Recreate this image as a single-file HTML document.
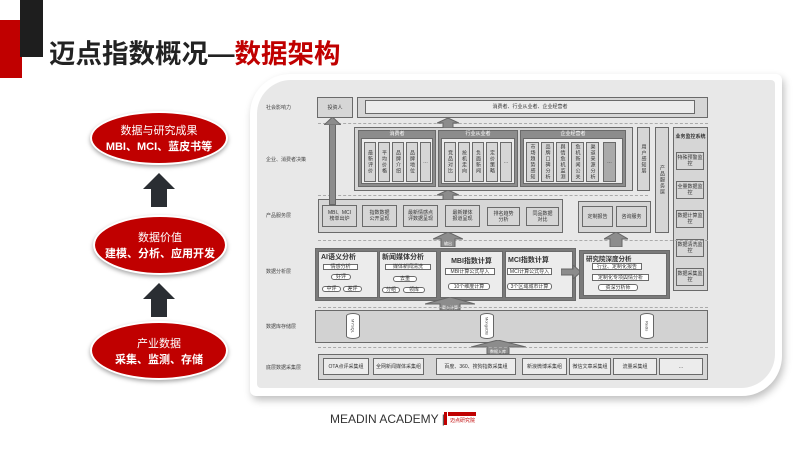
<!DOCTYPE html>
<html><head><meta charset="utf-8"><style>
*{margin:0;padding:0;box-sizing:border-box}
body{width:800px;height:449px;background:#fff;position:relative;overflow:hidden;font-family:"Liberation Sans","Noto Sans CJK SC",sans-serif}
.a{position:absolute}
.b{position:absolute;border:1px solid #6a6a6a;background:#d6d6d6;font-size:5px;color:#333;display:flex;align-items:center;justify-content:center;text-align:center;line-height:1.2}
.w{background:#ececec}
.d{background:#8c8c8c}
.lab{position:absolute;font-size:5px;color:#444;left:266px}
.v{writing-mode:vertical-rl;letter-spacing:1px}
.dash{position:absolute;left:318px;width:390px;border-top:1px dashed #aaa}
.ov{position:absolute;border-radius:50%;background:#c00000;color:#fff;text-align:center;box-shadow:0 2px 4px rgba(0,0,0,.35);display:flex;flex-direction:column;justify-content:center;border:2px solid #fff;white-space:nowrap}
.ov .t{font-size:11px}
.ov .s{font-size:11px;font-weight:bold}
.ar{position:absolute;width:32px;height:34px}
.cyl{position:absolute;width:14px;height:26px;border:1px solid #666;background:#fff;border-radius:7px/3px;font-size:4px;writing-mode:vertical-rl;display:flex;align-items:center;justify-content:center;color:#444}
</style></head><body>
<div class="a" style="left:0;top:20px;width:22px;height:58px;background:#c00000"></div>
<div class="a" style="left:20px;top:0;width:23px;height:57px;background:#1e1e1e"></div>
<div class="a" style="left:49px;top:32px;font-size:26.5px;font-weight:bold;color:#222;white-space:nowrap;letter-spacing:0px">迈点指数概况—<span style="color:#c00000">数据架构</span></div>

<div class="ov" style="left:90px;top:111px;width:138px;height:54px"><div class="t">数据与研究成果</div><div class="s">MBI、MCI、蓝皮书等</div></div>
<div class="ov" style="left:93px;top:215px;width:134px;height:60px"><div class="t">数据价值</div><div class="s">建模、分析、应用开发</div></div>
<div class="ov" style="left:90px;top:321px;width:138px;height:59px"><div class="t">产业数据</div><div class="s">采集、监测、存储</div></div>
<svg class="ar" style="left:143px;top:173px" viewBox="0 0 32 34"><polygon points="16,0 32,16 24,16 24,34 8,34 8,16 0,16" fill="#2a2e33"/></svg>
<svg class="ar" style="left:143px;top:283px" viewBox="0 0 32 34"><polygon points="16,0 32,16 24,16 24,34 8,34 8,16 0,16" fill="#2a2e33"/></svg>

<!-- frame -->
<div class="a" style="left:250px;top:74px;width:532px;height:322px;background:#fff;border-radius:40px 6px 40px 6px;box-shadow:2px 4px 8px rgba(0,0,0,.25)"></div>
<div class="a" style="left:257px;top:80px;width:518px;height:308px;background:#e8e8e8;border-radius:34px 4px 34px 4px"></div>

<div class="lab" style="top:104px">社会影响力</div>
<div class="lab" style="top:156px">企业、消费者决策</div>
<div class="lab" style="top:212px">产品服务层</div>
<div class="lab" style="top:268px">数据分析层</div>
<div class="lab" style="top:323px">数据库存储层</div>
<div class="lab" style="top:364px">底层数据采集层</div>

<div class="b" style="left:317px;top:97px;width:36px;height:21px">投资人</div>
<div class="b" style="left:357px;top:97px;width:351px;height:21px"></div>
<div class="b w" style="left:365px;top:100px;width:330px;height:14px">消费者、行业从业者、企业经营者</div>
<div class="dash" style="top:123px"></div>

<div class="b" style="left:354px;top:127px;width:279px;height:64px"></div>
<div class="b d" style="left:358px;top:130px;width:78px;height:57px;align-items:flex-start;color:#fff">消费者</div>
<div class="b w" style="left:361px;top:138px;width:72px;height:46px"></div>
<div class="b" style="left:438px;top:130px;width:80px;height:57px;align-items:flex-start;background:#8c8c8c;color:#fff">行业从业者</div>
<div class="b w" style="left:441px;top:138px;width:74px;height:46px"></div>
<div class="b d" style="left:520px;top:130px;width:106px;height:57px;align-items:flex-start;color:#fff">企业经营者</div>
<div class="b w" style="left:523px;top:138px;width:100px;height:46px"></div>
<div class="b v" style="left:364px;top:142px;width:12px;height:40px">最新评价</div>
<div class="b v" style="left:378px;top:142px;width:12px;height:40px">平均价格</div>
<div class="b v" style="left:392px;top:142px;width:12px;height:40px">品牌介绍</div>
<div class="b v" style="left:406px;top:142px;width:12px;height:40px">品牌地位</div>
<div class="b" style="left:420px;top:142px;width:11px;height:40px">…</div>
<div class="b v" style="left:444px;top:142px;width:12px;height:40px">竞品对比</div>
<div class="b v" style="left:458px;top:142px;width:12px;height:40px">抢机走向</div>
<div class="b v" style="left:472px;top:142px;width:12px;height:40px">负面新闻</div>
<div class="b v" style="left:486px;top:142px;width:12px;height:40px">定价策略</div>
<div class="b" style="left:500px;top:142px;width:12px;height:40px">…</div>
<div class="b v" style="left:526px;top:142px;width:13px;height:40px">市场趋势感知</div>
<div class="b v" style="left:541px;top:142px;width:13px;height:40px">品牌口碑分析</div>
<div class="b v" style="left:556px;top:142px;width:13px;height:40px">舆情危机监测</div>
<div class="b v" style="left:571px;top:142px;width:13px;height:40px">危机新闻公关</div>
<div class="b v" style="left:586px;top:142px;width:13px;height:40px">渠道来源分析</div>
<div class="b" style="left:603px;top:142px;width:13px;height:40px;background:#aaa">…</div>
<div class="b v" style="left:637px;top:127px;width:13px;height:64px">用户感知层</div>
<div class="b v" style="left:655px;top:127px;width:14px;height:106px">产品服务层</div>
<div class="b" style="left:673px;top:127px;width:35px;height:164px;align-items:flex-start;padding-top:6px;font-weight:bold">业务监控系统</div>
<div class="b" style="left:676px;top:152px;width:28px;height:18px">特殊预警监控</div>
<div class="b" style="left:676px;top:181px;width:28px;height:18px">全量数据监控</div>
<div class="b" style="left:676px;top:210px;width:28px;height:18px">数据计算监控</div>
<div class="b" style="left:676px;top:239px;width:28px;height:18px">数据清洗监控</div>
<div class="b" style="left:676px;top:268px;width:28px;height:18px">数据采集监控</div>
<div class="dash" style="top:195px;width:330px"></div>

<div class="b" style="left:318px;top:199px;width:245px;height:34px"></div>
<div class="b" style="left:322px;top:205px;width:35px;height:22px">MBI、MCI<br>榜单出炉</div>
<div class="b" style="left:362px;top:205px;width:35px;height:22px">指数数据<br>公开呈现</div>
<div class="b" style="left:403px;top:205px;width:35px;height:22px">最新情感点<br>评数据呈现</div>
<div class="b" style="left:445px;top:205px;width:35px;height:22px">最新媒体<br>报道呈现</div>
<div class="b" style="left:487px;top:207px;width:33px;height:19px">排名趋势<br>分析</div>
<div class="b" style="left:526px;top:207px;width:33px;height:19px">同品数据<br>对比</div>
<div class="b" style="left:578px;top:201px;width:73px;height:32px"></div>
<div class="b" style="left:582px;top:206px;width:31px;height:21px">定制报告</div>
<div class="b" style="left:616px;top:206px;width:31px;height:21px">咨询服务</div>
<div class="a" style="left:329px;top:120px;width:7px;height:85px;background:#8c8c8c;border:1px solid #666"></div>
<svg class="a" style="left:324px;top:117px" width="17" height="8"><polygon points="8.5,0 17,8 0,8" fill="#8c8c8c" stroke="#666"/></svg>
<svg class="a" style="left:437px;top:118px" width="22" height="10"><polygon points="11,0 22,5 16,5 16,10 6,10 6,5 0,5" fill="#8c8c8c" stroke="#666"/></svg>
<svg class="a" style="left:437px;top:190px" width="22" height="10"><polygon points="11,0 22,5 16,5 16,10 6,10 6,5 0,5" fill="#8c8c8c" stroke="#666"/></svg>
<div class="dash" style="top:240px"></div>
<svg class="a" style="left:433px;top:232px" width="30" height="15"><polygon points="15,0 30,7 22,7 22,15 8,15 8,7 0,7" fill="#8c8c8c" stroke="#666"/><text x="15" y="13" font-size="4" text-anchor="middle" fill="#fff">输出</text></svg>
<svg class="a" style="left:604px;top:232px" width="24" height="15"><polygon points="12,0 24,7 18,7 18,15 6,15 6,7 0,7" fill="#8c8c8c" stroke="#666"/></svg>

<div class="b" style="left:315px;top:248px;width:261px;height:53px;background:#7a7a7a"></div>
<div class="b w" style="left:318px;top:251px;width:60px;height:47px;align-items:flex-start;justify-content:flex-start;font-size:7px;font-weight:bold;padding:2px">AI语义分析</div>
<div class="b w" style="left:323px;top:264px;width:35px;height:6px;background:#fff">情感分析</div>
<div class="b w" style="left:331px;top:274px;width:20px;height:6px;border-radius:3px;background:#fff">好评</div>
<div class="b w" style="left:322px;top:286px;width:19px;height:6px;border-radius:3px;background:#fff">中评</div>
<div class="b w" style="left:343px;top:286px;width:19px;height:6px;border-radius:3px;background:#fff">差评</div>
<div class="b w" style="left:379px;top:251px;width:58px;height:47px;align-items:flex-start;justify-content:flex-start;font-size:7px;font-weight:bold;padding:2px">新闻媒体分析</div>
<div class="b" style="left:385px;top:264px;width:46px;height:6px;background:#fff">媒体新闻清洗</div>
<div class="b" style="left:393px;top:276px;width:24px;height:6px;border-radius:3px;background:#fff">去重</div>
<div class="b" style="left:382px;top:287px;width:18px;height:6px;border-radius:3px;background:#fff">分组</div>
<div class="b" style="left:403px;top:287px;width:22px;height:6px;border-radius:3px;background:#fff">领库</div>
<div class="b w" style="left:440px;top:251px;width:63px;height:47px;align-items:flex-start;font-size:7px;font-weight:bold;padding-top:6px">MBI指数计算</div>
<div class="b" style="left:445px;top:268px;width:50px;height:7px;background:#fff">MBI计算公式导入</div>
<div class="b" style="left:448px;top:283px;width:42px;height:7px;border-radius:3px;background:#fff">10个维度计算</div>
<div class="b w" style="left:505px;top:251px;width:68px;height:47px;align-items:flex-start;justify-content:flex-start;font-size:7px;font-weight:bold;padding:5px 2px">MCI指数计算</div>
<div class="b" style="left:507px;top:268px;width:45px;height:7px;background:#fff">MCI计算公式导入</div>
<div class="b" style="left:507px;top:283px;width:45px;height:7px;border-radius:3px;background:#fff">3个区域城市计算</div>
<svg class="a" style="left:561px;top:265px" width="20" height="14"><polygon points="0,4 12,4 12,0 20,7 12,14 12,10 0,10" fill="#8c8c8c" stroke="#666"/></svg>
<div class="b" style="left:579px;top:250px;width:91px;height:49px;background:#7a7a7a"></div>
<div class="b w" style="left:583px;top:253px;width:84px;height:43px;align-items:flex-start;justify-content:flex-start;font-size:6.5px;font-weight:bold;padding:2px">研究院深度分析</div>
<div class="b" style="left:592px;top:263px;width:50px;height:7px;background:#fff">行业、定制化报告</div>
<div class="b" style="left:592px;top:274px;width:57px;height:7px;background:#fff">定制化专项舆情分析</div>
<div class="b" style="left:598px;top:284px;width:40px;height:7px;border-radius:3px;background:#fff">资深分析师</div>
<svg class="a" style="left:425px;top:297px" width="50" height="13"><polygon points="25,0 50,7 35,7 35,13 15,13 15,7 0,7" fill="#8c8c8c" stroke="#666"/><text x="25" y="12" font-size="4" text-anchor="middle" fill="#fff">载入计算</text></svg>
<div class="dash" style="top:307px"></div>
<div class="b" style="left:315px;top:310px;width:393px;height:33px;background:#d2d2d2"></div>
<div class="cyl" style="left:346px;top:313px">MYSQL</div>
<div class="cyl" style="left:480px;top:313px">MongoDB</div>
<div class="cyl" style="left:640px;top:313px">Redis</div>
<svg class="a" style="left:471px;top:340px" width="55" height="14"><polygon points="27,0 55,7 38,7 38,14 16,14 16,7 0,7" fill="#8c8c8c" stroke="#666"/><text x="27" y="13" font-size="4" text-anchor="middle" fill="#fff">数据入库</text></svg>
<div class="dash" style="top:347px"></div>
<div class="b" style="left:318px;top:354px;width:390px;height:26px"></div>
<div class="b w" style="left:323px;top:358px;width:46px;height:17px">OTA点评采集组</div>
<div class="b w" style="left:373px;top:358px;width:51px;height:17px">全网新闻媒体采集组</div>
<div class="b w" style="left:436px;top:358px;width:80px;height:17px">百度、360、搜狗指数采集组</div>
<div class="b w" style="left:522px;top:358px;width:45px;height:17px">新浪微博采集组</div>
<div class="b w" style="left:569px;top:358px;width:42px;height:17px">微信文章采集组</div>
<div class="b w" style="left:613px;top:358px;width:44px;height:17px">流量采集组</div>
<div class="b w" style="left:659px;top:358px;width:44px;height:17px">…</div>

<div class="a" style="left:330px;top:412px;font-size:12px;color:#333;white-space:nowrap">MEADIN ACADEMY |</div>
<div class="a" style="left:444px;top:412px;width:3px;height:13px;background:#c00000"></div>
<div class="a" style="left:448px;top:412px;width:28px;height:4px;background:#c00000"></div>
<div class="a" style="left:450px;top:417px;font-size:5px;color:#c00000">迈点研究院</div>
</body></html>
